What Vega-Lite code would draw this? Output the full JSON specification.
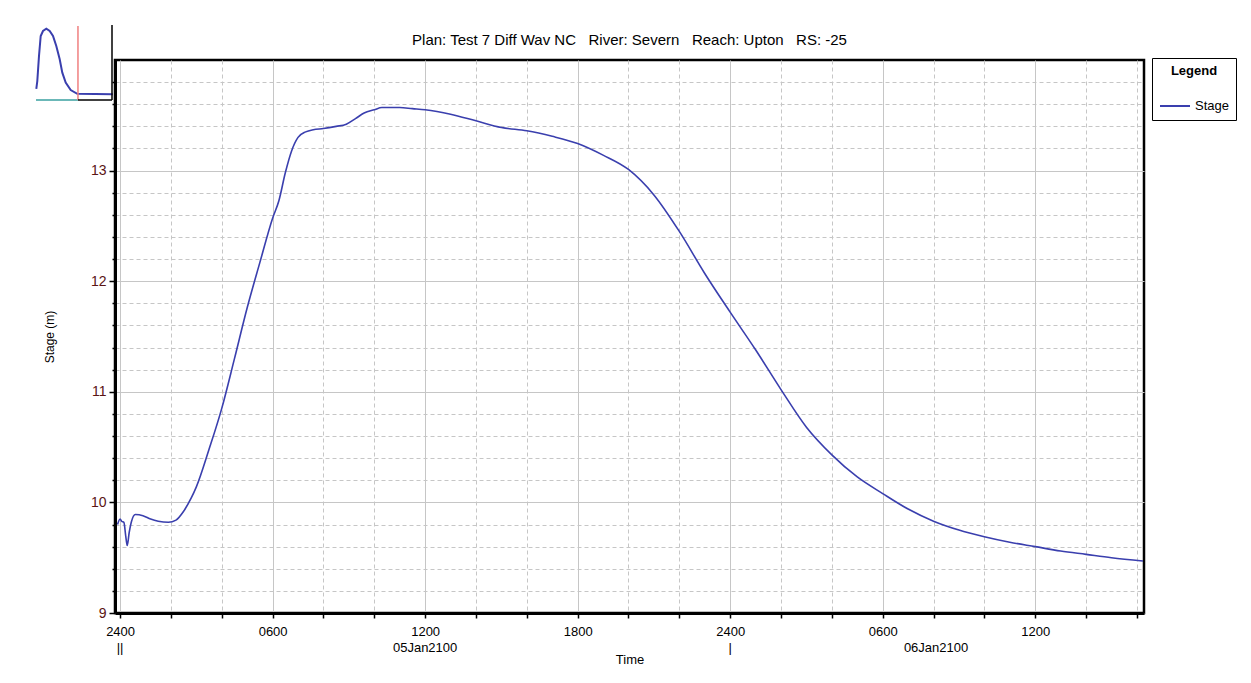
{
  "$schema": "https://vega.github.io/schema/vega-lite/v6.json",
  "width": 1029,
  "height": 553,
  "autosize": {"type": "none"},
  "padding": {"left": 115, "top": 60, "right": 107, "bottom": 70},
  "background": "white",
  "config": {
    "font": "Liberation Sans",
    "view": {"stroke": "#000", "strokeWidth": 2.5},
    "axis": {"labelOverlap": false}
  },
  "title": {
    "text": "Plan: Test 7 Diff Wav NC\u00a0\u00a0\u00a0River: Severn\u00a0\u00a0\u00a0Reach: Upton\u00a0\u00a0\u00a0RS: -25",
    "fontSize": 15,
    "fontWeight": "normal",
    "color": "#000",
    "anchor": "middle",
    "offset": 11,
    "dy": 35
  },
  "datasets": {
    "stage": [
      {"h": -0.1, "v": 9.80}, {"h": 0.0, "v": 9.85}, {"h": 0.06, "v": 9.83}, {"h": 0.15, "v": 9.82},
      {"h": 0.22, "v": 9.70}, {"h": 0.28, "v": 9.61}, {"h": 0.36, "v": 9.73}, {"h": 0.44, "v": 9.82},
      {"h": 0.6, "v": 9.89}, {"h": 0.9, "v": 9.88}, {"h": 1.2, "v": 9.85}, {"h": 1.5, "v": 9.83},
      {"h": 1.9, "v": 9.82}, {"h": 2.2, "v": 9.84}, {"h": 2.5, "v": 9.92}, {"h": 2.8, "v": 10.04},
      {"h": 3.0, "v": 10.14}, {"h": 3.5, "v": 10.48}, {"h": 4.0, "v": 10.85}, {"h": 4.5, "v": 11.30},
      {"h": 5.0, "v": 11.76}, {"h": 5.5, "v": 12.17}, {"h": 6.0, "v": 12.57}, {"h": 6.25, "v": 12.73},
      {"h": 6.5, "v": 12.98}, {"h": 6.75, "v": 13.18}, {"h": 7.0, "v": 13.30}, {"h": 7.3, "v": 13.35},
      {"h": 7.6, "v": 13.37}, {"h": 8.0, "v": 13.38}, {"h": 8.5, "v": 13.40}, {"h": 8.9, "v": 13.42},
      {"h": 9.26, "v": 13.47}, {"h": 9.6, "v": 13.52}, {"h": 10.0, "v": 13.55}, {"h": 10.3, "v": 13.57},
      {"h": 11.0, "v": 13.57}, {"h": 11.5, "v": 13.56}, {"h": 12.0, "v": 13.55}, {"h": 13.0, "v": 13.51},
      {"h": 14.0, "v": 13.45}, {"h": 15.0, "v": 13.39}, {"h": 16.0, "v": 13.36}, {"h": 17.0, "v": 13.31},
      {"h": 18.0, "v": 13.245}, {"h": 19.0, "v": 13.14}, {"h": 20.0, "v": 13.01}, {"h": 21.0, "v": 12.78},
      {"h": 22.0, "v": 12.45}, {"h": 23.0, "v": 12.07}, {"h": 24.0, "v": 11.72}, {"h": 25.0, "v": 11.38},
      {"h": 26.0, "v": 11.02}, {"h": 27.0, "v": 10.68}, {"h": 28.0, "v": 10.43}, {"h": 29.0, "v": 10.23},
      {"h": 30.0, "v": 10.08}, {"h": 31.0, "v": 9.94}, {"h": 32.0, "v": 9.83}, {"h": 33.0, "v": 9.75},
      {"h": 34.0, "v": 9.69}, {"h": 35.0, "v": 9.64}, {"h": 36.0, "v": 9.60}, {"h": 37.0, "v": 9.56},
      {"h": 38.0, "v": 9.53}, {"h": 39.0, "v": 9.50}, {"h": 40.24, "v": 9.47}
    ],
    "dates": [
      {"h": 0, "label": "||"},
      {"h": 12, "label": "05Jan2100"},
      {"h": 24, "label": "|"},
      {"h": 32.1, "label": "06Jan2100"}
    ],
    "thumb": [
      {"t": 0.36, "v": 9.87}, {"t": 1.57, "v": 10.35}, {"t": 3.63, "v": 11.91}, {"t": 5.69, "v": 13.15},
      {"t": 8.47, "v": 13.46}, {"t": 12.47, "v": 13.60}, {"t": 16.58, "v": 13.46}, {"t": 20.58, "v": 13.15},
      {"t": 24.57, "v": 12.53}, {"t": 28.69, "v": 11.70}, {"t": 31.84, "v": 10.87}, {"t": 35.95, "v": 10.25},
      {"t": 42.0, "v": 9.79}, {"t": 50.0, "v": 9.56}, {"t": 93.0, "v": 9.53}
    ],
    "thumbRules": [
      {"part": "base", "t": 0, "t2": 50.8, "v": 9.17, "v2": 9.17},
      {"part": "marker", "t": 50.8, "t2": 50.8, "v": 9.17, "v2": 13.77},
      {"part": "frame", "t": 50.8, "t2": 92.0, "v": 9.17, "v2": 9.17},
      {"part": "frame", "t": 92.0, "t2": 92.0, "v": 9.17, "v2": 13.83}
    ]
  },
  "layer": [
    {
      "layer": [
        {
          "data": {"name": "dates"},
          "mark": {"type": "text", "fontSize": 13, "baseline": "middle", "align": "center", "dy": 35, "color": "#000"},
          "encoding": {
            "x": {"field": "h", "type": "quantitative", "title": "Time"},
            "y": {
              "datum": 9,
              "type": "quantitative",
              "axis": {
                "orient": "left",
                "values": [9.2, 9.4, 9.6, 9.8, 10.2, 10.4, 10.6, 10.8, 11.2, 11.4, 11.6, 11.8, 12.2, 12.4, 12.6, 12.8, 13.2, 13.4, 13.6, 13.8],
                "labels": false,
                "title": null,
                "domain": false,
                "grid": true,
                "gridColor": "#c6c6c6",
                "gridDash": [4, 3],
                "gridWidth": 1,
                "ticks": true,
                "tickColor": "#000",
                "tickSize": 3,
                "tickWidth": 1.5
              }
            },
            "text": {"field": "label"}
          }
        },
        {
          "data": {"name": "stage"},
          "mark": {"type": "line", "strokeWidth": 1.6, "clip": true, "interpolate": "monotone"},
          "encoding": {
            "x": {
              "field": "h",
              "type": "quantitative",
              "scale": {"domain": [-0.2, 40.28], "nice": false, "zero": false},
              "axis": {
                "title": "Time",
                "values": [0,1,2,3,4,5,6,7,8,9,10,11,12,13,14,15,16,17,18,19,20,21,22,23,24,25,26,27,28,29,30,31,32,33,34,35,36,37,38,39,40],
                "labelExpr": "datum.value % 6 !== 0 ? '' : (datum.value % 24 === 0 ? '2400' : (datum.value % 24 === 6 ? '0600' : (datum.value % 24 === 12 ? '1200' : '1800')))",
                "grid": true,
                "gridColor": "#c6c6c6",
                "gridDash": {"condition": {"test": "datum.value % 6 === 0", "value": []}, "value": [4, 3]},
                "gridWidth": 1,
                "tickColor": "#000",
                "tickSize": 5,
                "tickWidth": 1.5,
                "domainColor": "#000",
                "domainWidth": 3,
                "labelFontSize": 13,
                "labelColor": "#000",
                "labelPadding": 7,
                "labelOverlap": false,
                "labelFlush": false,
                "labelBound": false,
                "titleFontSize": 13,
                "titleFontWeight": "normal",
                "titleColor": "#000",
                "titlePadding": 15
              }
            },
            "y": {
              "field": "v",
              "type": "quantitative",
              "scale": {"domain": [9, 14], "nice": false, "zero": false},
              "axis": {
                "orient": "left",
                "title": "Stage (m)",
                "values": [9, 10, 11, 12, 13],
                "format": "d",
                "grid": true,
                "gridColor": "#c6c6c6",
                "gridWidth": 1,
                "tickColor": "#000",
                "tickSize": 6,
                "tickWidth": 1.5,
                "domainColor": "#000",
                "domainWidth": 3,
                "labelFontSize": 14,
                "labelColor": "#5a1414",
                "labelPadding": 3,
                "labelOverlap": false,
                "labelBound": false,
                "titleFontSize": 12,
                "titleFontWeight": "normal",
                "titleColor": "#000",
                "titlePadding": 34
              }
            },
            "color": {
              "datum": "Stage",
              "scale": {"range": ["#3a3fae"]},
              "legend": {
                "orient": "none",
                "legendX": 1037,
                "legendY": -2,
                "title": "Legend",
                "titleFontSize": 13,
                "titleFontWeight": "bold",
                "titleColor": "#000",
                "titleAnchor": "middle",
                "titlePadding": 12,
                "labelFontSize": 13,
                "labelColor": "#000",
                "symbolType": "stroke",
                "symbolStrokeWidth": 2,
                "symbolSize": 900,
                "strokeColor": "#000",
                "fillColor": "#fff",
                "padding": 7
              }
            }
          }
        }
      ],
      "resolve": {"axis": {"y": "independent"}}
    },
    {
      "layer": [
        {
          "data": {"name": "thumb"},
          "mark": {"type": "line", "strokeWidth": 2, "color": "#3a3fae"},
          "encoding": {
            "x": {"field": "t", "type": "quantitative", "scale": {"domain": [0, 92], "range": [-79, -3], "nice": false, "zero": false}, "axis": null},
            "y": {"field": "v", "type": "quantitative", "scale": {"domain": [9.11, 13.77], "range": [41, -34], "nice": false, "zero": false}, "axis": null}
          }
        },
        {
          "data": {"name": "thumbRules"},
          "mark": {"type": "rule", "strokeWidth": 1.5},
          "encoding": {
            "x": {"field": "t", "type": "quantitative", "axis": null},
            "x2": {"field": "t2"},
            "y": {"field": "v", "type": "quantitative", "axis": null},
            "y2": {"field": "v2"},
            "color": {"field": "part", "type": "nominal", "scale": {"domain": ["base", "marker", "frame"], "range": ["#3aa0a0", "#f08080", "#000000"]}, "legend": null}
          }
        }
      ]
    }
  ],
  "resolve": {"scale": {"x": "independent", "y": "independent", "color": "independent"}}
}
